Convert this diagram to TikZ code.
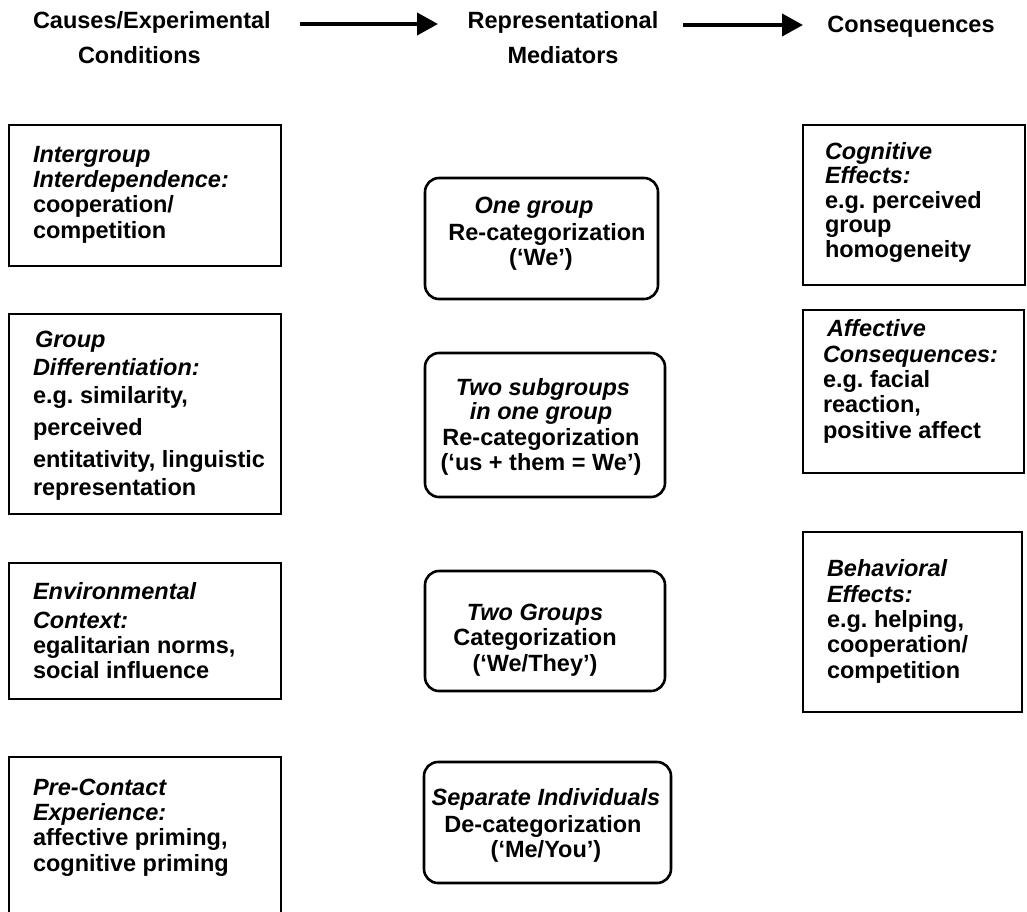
\documentclass[tikz,border=0pt]{standalone}
\usepackage{fontspec}
\setmainfont{Liberation Sans}
\usetikzlibrary{arrows.meta}
\frenchspacing
\begin{document}
\begin{tikzpicture}[x=1pt,y=-1pt,
  every node/.style={inner sep=0pt, outer sep=0pt},
  sqbox/.style={draw, line width=2.6pt, anchor=north west},
  rbox/.style={draw, line width=2.6pt, rounded corners=14pt, anchor=north west},
  lbl/.style={anchor=base west, align=left, font=\fontsize{23.5}{25.3}\selectfont\bfseries},
  mlbl/.style={anchor=base, align=center, font=\fontsize{23.5}{25.5}\selectfont\bfseries},
  hdr/.style={anchor=base, align=center, font=\fontsize{23.5}{35}\selectfont\bfseries},
  bigarrow/.style={line width=4pt, -{Triangle[length=21pt,width=22pt]}}
]
\useasboundingbox (0,0) rectangle (1027,911);

% headers (multi-line nodes are placed by the baseline of their last line)
\node[hdr, anchor=base west, align=left] (h1) at (33,63) {Causes/Experimental\\\hspace*{45pt}Conditions};
\node[hdr] (h2) at (563,63) {Representational\\Mediators};
\node[hdr] (h3) at (911,32) {Consequences};
\coordinate (a1s) at (300,24);
\coordinate (a1e) at (438,24);
\coordinate (a2s) at (683,25);
\coordinate (a2e) at (803,25);
\draw[bigarrow] (a1s) -- (a1e);
\draw[bigarrow] (a2s) -- (a2e);

% left column
\node[sqbox, minimum width=272pt, minimum height=141pt] (l1) at (9,125) {};
\node[lbl] (l1t) at (33,238) {\textit{Intergroup}\\\textit{Interdependence:}\\cooperation/\\competition};

\node[sqbox, minimum width=272pt, minimum height=200pt] (l2) at (9,314) {};
\node[lbl] (l2t) at (33,495) {\hspace*{2pt}\textit{Group}\\[2.7pt]\textit{Differentiation:}\\[2.7pt]e.g. similarity,\\[6.7pt]perceived\\[6.7pt]entitativity, linguistic\\[2.7pt]representation};

\node[sqbox, minimum width=272pt, minimum height=136pt] (l3) at (9,563) {};
\node[lbl] (l3t) at (33,678.6) {\textit{Environmental}\\[3.7pt]\textit{Context:}\\egalitarian norms,\\social influence};

\node[sqbox, minimum width=272pt, minimum height=200pt] (l4) at (9,757) {};
\node[lbl] (l4t) at (33,871) {\textit{Pre-Contact}\\\textit{Experience:}\\affective priming,\\cognitive priming};

% middle column
\node[rbox, minimum width=233pt, minimum height=121pt] (m1) at (425,178) {};
\node[mlbl] (m1t) at (541,265.5) {\hspace*{-14pt}\textit{One group}\\[1.5pt]\hspace*{12pt}Re-categorization\\(`We')};

\node[rbox, minimum width=240pt, minimum height=144pt] (m2) at (425,353) {};
\node[mlbl] (m2t) at (541,470.5) {\hspace*{4pt}\textit{Two subgroups}\\[-1pt]\textit{in one group}\\Re-categorization\\(`us + them = We')};

\node[rbox, minimum width=240pt, minimum height=120pt] (m3) at (425,571) {};
\node[mlbl] (m3t) at (535,671) {\textit{Two Groups}\\Categorization\\(`We/They')};

\node[rbox, minimum width=247pt, minimum height=121pt] (m4) at (424,762) {};
\node[mlbl] (m4t) at (546,857.5) {\textit{Separate Individuals}\\[1.5pt]\hspace*{-6pt}De-categorization\\(`Me/You')};

% right column
\node[sqbox, minimum width=222pt, minimum height=160pt] (r1) at (803,125) {};
\node[lbl, font=\fontsize{23.5}{24.5}\selectfont\bfseries] (r1t) at (825,257) {\textit{Cognitive}\\\textit{Effects:}\\e.g. perceived\\group\\homogeneity};

\node[sqbox, minimum width=221pt, minimum height=163pt] (r2) at (803,310) {};
\node[lbl] (r2t) at (823,438) {\hspace*{4pt}\textit{Affective}\\\textit{Consequences:}\\e.g. facial\\reaction,\\positive affect};

\node[sqbox, minimum width=219pt, minimum height=180pt] (r3) at (803,532) {};
\node[lbl] (r3t) at (827,678) {\textit{Behavioral}\\\textit{Effects:}\\e.g. helping,\\cooperation/\\competition};
\end{tikzpicture}
\end{document}
